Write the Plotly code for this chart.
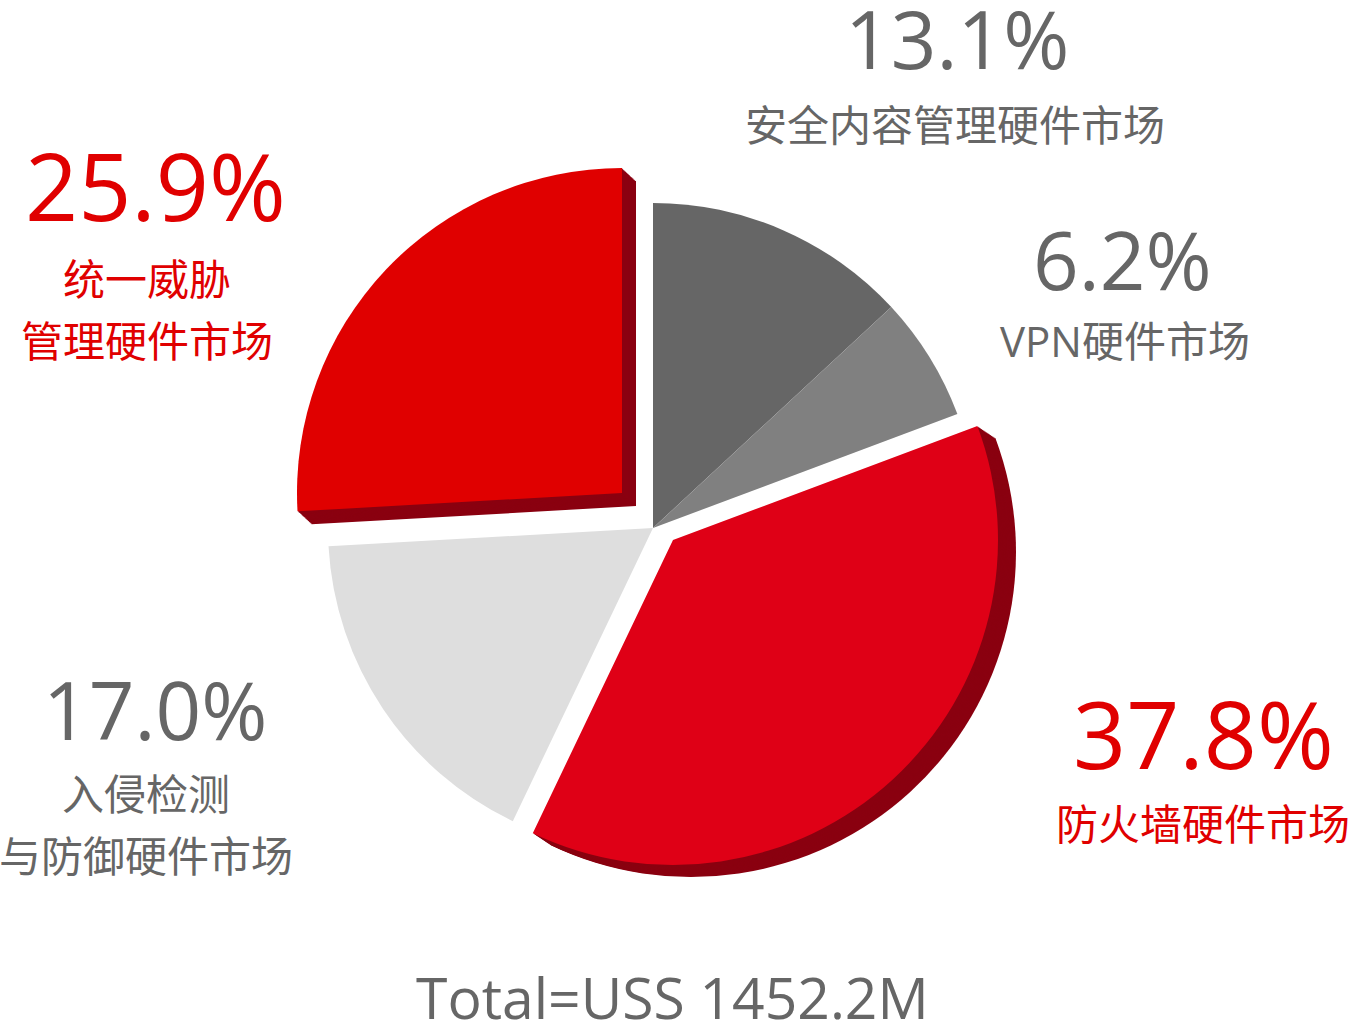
import plotly.graph_objects as go

# ---- data ----
labels = ["安全内容管理硬件市场", "VPN硬件市场", "防火墙硬件市场",
          "入侵检测<br>与防御硬件市场", "统一威胁<br>管理硬件市场"]
shares = [13.1, 6.2, 37.8, 17.0, 25.9]
total_label = "Total=USS 1452.2M"

# ---- styles ----
face_colors = ["#666666", "#808080", "#df0016", "#dedede", "#e00000"]
edge_colors = [None, None, "#8a0010", None, "#8a0010"]
# exploded slices: pixel offset of the slice, and depth of its extruded edge
slice_offsets = [(0, 0), (0, 0), (20, 12), (0, 0), (-31, -35)]
edge_depth = [(0, 0), (0, 0), (18, 12), (0, 0), (14, 13)]
text_colors = ["#666666", "#666666", "#e00000", "#666666", "#e00000"]
pct_sizes = [80, 80, 93, 80, 93]
# label placement (pixels): percent centre (x, y), name centre x, first name line y
label_pos = [(957, 37, 955, 125), (1122, 258, 1125, 340), (1203, 733, 1203, 823),
             (155, 708, 146, 793), (155, 185, 147, 278)]
name_line_gap = 62
name_size = 42
FONT = "Open Sans, Noto Sans CJK SC, sans-serif"
CLEAR = "rgba(0,0,0,0)"

W, H = 1350, 1031
cx, cy, r = 653, 528, 325


def dom(dx=0.0, dy=0.0):
    return dict(x=[(cx + dx - r) / W, (cx + dx + r) / W],
                y=[1 - (cy + dy + r) / H, 1 - (cy + dy - r) / H])


def pie(colors, domain):
    return go.Pie(values=shares, labels=labels, sort=False, direction="clockwise",
                  rotation=0, domain=domain,
                  marker=dict(colors=colors, line=dict(width=0)),
                  textinfo="none", hoverinfo="skip", showlegend=False)


fig = go.Figure()

# slices that stay in place
fig.add_trace(pie([c if slice_offsets[i] == (0, 0) else CLEAR
                   for i, c in enumerate(face_colors)], dom()))

# exploded slices with an extruded edge
n_layers = 16
for i, (ox, oy) in enumerate(slice_offsets):
    if (ox, oy) == (0, 0):
        continue
    only = lambda col: [col if j == i else CLEAR for j in range(len(shares))]
    ex, ey = edge_depth[i]
    for k in range(n_layers, 0, -1):
        fig.add_trace(pie(only(edge_colors[i]),
                          dom(ox + k * ex / n_layers, oy + k * ey / n_layers)))
    fig.add_trace(pie(only(face_colors[i]), dom(ox, oy)))

ann = []
for lab, v, col, ps, (px, py_pct, nx, py_name) in zip(labels, shares, text_colors,
                                                       pct_sizes, label_pos):
    ann.append(dict(text=f"{v:.1f}%", x=px / W, y=1 - py_pct / H, xref="paper", yref="paper",
                    xanchor="center", yanchor="middle", showarrow=False,
                    font=dict(family=FONT, size=ps, color=col)))
    for i, line in enumerate(lab.split("<br>")):
        ann.append(dict(text=line, x=nx / W, y=1 - (py_name + i * name_line_gap) / H,
                        xref="paper", yref="paper", xanchor="center", yanchor="middle",
                        showarrow=False, font=dict(family=FONT, size=name_size, color=col)))

ann.append(dict(text=total_label, x=672 / W, y=1 - 997 / H, xref="paper", yref="paper",
                xanchor="center", yanchor="middle", showarrow=False,
                font=dict(family=FONT, size=57, color="#666666")))

fig.update_layout(width=W, height=H, margin=dict(l=0, r=0, t=0, b=0),
                  paper_bgcolor="white", plot_bgcolor="white", annotations=ann)

fig.write_html("out.html", config={"displayModeBar": False},
               post_script="document.body.style.margin='0';document.body.style.overflow='hidden';")
